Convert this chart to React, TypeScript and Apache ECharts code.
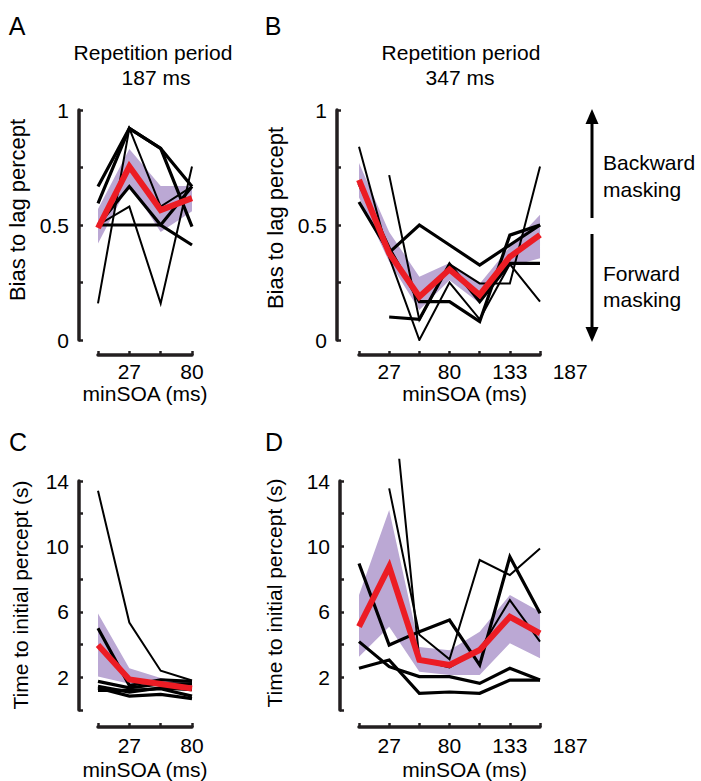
import React, { useEffect, useRef } from "react";
import * as echarts from "echarts";

// ---------- categories / tick labels ----------
const soaShort = ["0", "27", "53", "80"];
const soaLong = ["0", "27", "53", "80", "107", "133", "160"];
const soaLongWithEnd = ["0", "27", "53", "80", "107", "133", "160", "187"];
const shortShownLabels = ["27", "80"];
const longShownLabels = ["27", "80", "133", "187"];
const biasTickLabels = [0, 0.5, 1];
const timeTickLabels = [2, 6, 10, 14];

// ---------- Panel A (period 187 ms): bias to lag percept ----------
const aSubj1 = [0.667, 0.92, 0.833, 0.667];
const aSubj2 = [0.594, 0.92, 0.833, 0.493];
const aSubj3 = [0.159, 0.92, 0.58, 0.667];
const aSubj4 = [0.5, 0.667, 0.5, 0.413];
const aSubj5 = [0.5, 0.58, 0.159, 0.754];
const aSubj6 = [0.5, 0.5, 0.5, 0.667];
const aMean = [0.487, 0.754, 0.565, 0.617];
const aLower = [0.42, 0.68, 0.47, 0.56];
const aUpper = [0.57, 0.83, 0.67, 0.67];

// ---------- Panel B (period 347 ms): bias to lag percept ----------
const bSubj1 = [0.84, 0.36, 0.0, 0.25, 0.09, 0.33, 0.167];
const bSubj2 = [0.6, 0.38, 0.5, 0.413, 0.326, 0.413, 0.5];
const bSubj3 = [0.68, 0.4, 0.167, 0.167, 0.08, 0.456, 0.5];
const bSubj4 = [null, 0.717, 0.087, 0.33, 0.246, 0.246, 0.754];
const bSubj5 = [null, 0.1, 0.09, 0.33, 0.167, 0.333, 0.333];
const bMean = [0.696, 0.377, 0.188, 0.307, 0.196, 0.362, 0.457];
const bLower = [0.62, 0.34, 0.13, 0.26, 0.16, 0.32, 0.355];
const bUpper = [0.77, 0.47, 0.275, 0.335, 0.245, 0.405, 0.545];

// ---------- Panel C (period 187 ms): time to initial percept ----------
const cSubj1 = [13.4, 5.35, 2.4, 1.8];
const cSubj2 = [5.0, 1.5, 1.85, 1.75];
const cSubj3 = [1.75, 1.35, 1.6, 1.6];
const cSubj4 = [1.45, 1.1, 1.35, 1.25];
const cSubj5 = [1.35, 0.85, 0.95, 0.7];
const cSubj6 = [1.2, 1.2, 1.3, 0.85];
const cMean = [3.97, 1.87, 1.59, 1.32];
const cLower = [2.05, 1.6, 1.45, 1.2];
const cUpper = [5.9, 2.55, 1.95, 1.6];

// ---------- Panel D (period 347 ms): time to initial percept ----------
const dSubj1 = [8.96, 3.97, 4.79, 5.5, 2.75, 9.37, 5.91];
const dSubj2 = [null, 13.55, 4.6, 3.1, 9.17, 8.25, 9.88];
const dSubj3 = [null, 21.5, 3.06, 2.6, 3.67, 6.72, 4.18];
const dSubj4 = [4.18, 2.65, 2.04, 2.04, 1.63, 2.55, 1.83];
const dSubj5 = [2.55, 3.06, 1.02, 1.1, 1.02, 1.83, 1.83];
const dMean = [5.1, 8.76, 3.06, 2.75, 3.67, 5.7, 4.69];
const dLower = [3.26, 5.09, 2.34, 2.14, 2.14, 4.08, 3.16];
const dUpper = [7.03, 12.22, 3.85, 3.65, 4.79, 7.03, 6.01];

// ---------- styling ----------
const FONT = "Liberation Sans, Arial, Helvetica, sans-serif";
const AXIS_COLOR = "#231f20";
const BAND_COLOR = "#bba8d4";
const MEAN_COLOR = "#ec1c24";
const FS = 21;

type PanelCfg = {
  dataRect: { left: number; top: number; width: number; height: number };
  xLineRect: { left: number; top: number; width: number; height: number };
  yRect: { left: number; top: number; width: number; height: number };
  labelCats: string[];
  shownLabels: string[];
  lineCats: string[];
  yDataMax: number;
  yAxisMax: number;
  yInterval: number;
  yLabels: number[];
  subjects: (number | null)[][];
  widths: number[];
  mean: number[];
  lower: number[];
  upper: number[];
  xOffset: number;
  labelMargin: number;
  nameGap: number;
};

function buildPanel(i: number, c: PanelCfg) {
  const g = i * 3;
  const grids = [
    { ...c.dataRect, containLabel: false, outerBoundsMode: "none" },
    { ...c.xLineRect, containLabel: false, outerBoundsMode: "none" },
    { ...c.yRect, containLabel: false, outerBoundsMode: "none" },
  ];
  const textStyle = { fontFamily: FONT, fontSize: FS, color: "#000" };
  const xAxes = [
    {
      gridIndex: g,
      type: "category",
      data: c.labelCats,
      boundaryGap: false,
      offset: c.xOffset,
      axisLine: { show: false, onZero: false },
      axisTick: { show: false },
      splitLine: { show: false },
      axisLabel: {
        show: true,
        interval: 0,
        margin: c.labelMargin,
        formatter: (v: string) => (c.shownLabels.includes(v) ? v : ""),
        ...textStyle,
      },
      name: "minSOA (ms)",
      nameLocation: "middle",
      nameGap: c.nameGap,
      nameTextStyle: textStyle,
    },
    {
      gridIndex: g + 1,
      type: "category",
      data: c.lineCats,
      boundaryGap: false,
      axisLine: { show: true, onZero: false, lineStyle: { color: AXIS_COLOR, width: 3.5 } },
      axisTick: { show: true, inside: true, length: 4, interval: 0, lineStyle: { color: AXIS_COLOR, width: 2.5 } },
      axisLabel: { show: false },
      splitLine: { show: false },
    },
    { gridIndex: g + 2, type: "value", show: false },
  ];
  const yAxes = [
    { gridIndex: g, type: "value", min: 0, max: c.yDataMax, show: false },
    { gridIndex: g + 1, type: "value", show: false },
    {
      gridIndex: g + 2,
      type: "value",
      min: 0,
      max: c.yAxisMax,
      interval: c.yInterval,
      axisLine: { show: true, onZero: false, lineStyle: { color: AXIS_COLOR, width: 3.5 } },
      axisTick: { show: true, inside: true, length: 4, lineStyle: { color: AXIS_COLOR, width: 2.5 } },
      splitLine: { show: false },
      axisLabel: {
        margin: 10,
        formatter: (v: number) => (c.yLabels.some((l) => Math.abs(l - v) < 1e-9) ? String(v) : ""),
        ...textStyle,
      },
    },
  ];
  const base = { xAxisIndex: g, yAxisIndex: g, symbol: "none", silent: true, animation: false };
  const series: any[] = [
    {
      ...base,
      type: "line",
      data: c.lower,
      stack: "band" + i,
      lineStyle: { width: 0, opacity: 0 },
      z: 1,
    },
    {
      ...base,
      type: "line",
      data: c.upper.map((u, k) => u - c.lower[k]),
      stack: "band" + i,
      lineStyle: { width: 0, opacity: 0 },
      areaStyle: { color: BAND_COLOR, opacity: 1 },
      z: 1,
    },
  ];
  c.subjects.forEach((s, k) => {
    series.push({
      ...base,
      type: "line",
      data: s.map((v) => (v === null ? "-" : v)),
      connectNulls: false,
      lineStyle: { color: "#000", width: c.widths[k], join: "miter", cap: "butt" },
      z: 2,
    });
  });
  series.push({
    ...base,
    type: "line",
    data: c.mean,
    lineStyle: { color: MEAN_COLOR, width: 6, join: "miter", cap: "butt" },
    z: 3,
  });
  return { grids, xAxes, yAxes, series };
}

const App: React.FC = () => {
  const ref = useRef<HTMLDivElement>(null);
  useEffect(() => {
    if (!ref.current) return;
    const chart = echarts.init(ref.current, undefined, { renderer: "svg" });

    const timeUnit = 229 / 14;
    const dDataMax = 15.3;
    const panels: PanelCfg[] = [
      {
        dataRect: { left: 98, top: 110, width: 94, height: 230 },
        xLineRect: { left: 98, top: 110, width: 94, height: 245 },
        yRect: { left: 79, top: 110, width: 40, height: 230 },
        labelCats: soaShort,
        shownLabels: shortShownLabels,
        lineCats: soaShort,
        yDataMax: 1,
        yAxisMax: 1,
        yInterval: 0.25,
        yLabels: biasTickLabels,
        subjects: [aSubj1, aSubj2, aSubj3, aSubj4, aSubj5, aSubj6],
        widths: [3.2, 3.2, 2, 3.2, 2, 3.2],
        mean: aMean,
        lower: aLower,
        upper: aUpper,
        xOffset: 15,
        labelMargin: 6,
        nameGap: 26,
      },
      {
        dataRect: { left: 359, top: 110, width: 211.2, height: 230 },
        xLineRect: { left: 359, top: 110, width: 181, height: 245 },
        yRect: { left: 337, top: 110, width: 40, height: 230 },
        labelCats: soaLongWithEnd,
        shownLabels: longShownLabels,
        lineCats: soaLong,
        yDataMax: 1,
        yAxisMax: 1,
        yInterval: 0.25,
        yLabels: biasTickLabels,
        subjects: [bSubj1, bSubj2, bSubj3, bSubj4, bSubj5],
        widths: [2, 3.2, 3.2, 2, 3.2],
        mean: bMean,
        lower: bLower,
        upper: bUpper,
        xOffset: 15,
        labelMargin: 6,
        nameGap: 26,
      },
      {
        dataRect: { left: 98, top: 481, width: 94, height: 229 },
        xLineRect: { left: 98, top: 481, width: 94, height: 246 },
        yRect: { left: 79, top: 481, width: 40, height: 229 },
        labelCats: soaShort,
        shownLabels: shortShownLabels,
        lineCats: soaShort,
        yDataMax: 14,
        yAxisMax: 14,
        yInterval: 2,
        yLabels: timeTickLabels,
        subjects: [cSubj1, cSubj2, cSubj3, cSubj4, cSubj5, cSubj6],
        widths: [2, 3.2, 3.2, 3.2, 3.2, 3.2],
        mean: cMean,
        lower: cLower,
        upper: cUpper,
        xOffset: 17,
        labelMargin: 8,
        nameGap: 32,
      },
      {
        dataRect: { left: 359, top: 710 - dDataMax * timeUnit, width: 211.2, height: dDataMax * timeUnit },
        xLineRect: { left: 359, top: 481, width: 181, height: 246 },
        yRect: { left: 340, top: 481, width: 40, height: 229 },
        labelCats: soaLongWithEnd,
        shownLabels: longShownLabels,
        lineCats: soaLong,
        yDataMax: dDataMax,
        yAxisMax: 14,
        yInterval: 2,
        yLabels: timeTickLabels,
        subjects: [dSubj1, dSubj2, dSubj3, dSubj4, dSubj5],
        widths: [3.2, 2, 2, 3.2, 3.2],
        mean: dMean,
        lower: dLower,
        upper: dUpper,
        xOffset: 17,
        labelMargin: 8,
        nameGap: 32,
      },
    ];

    const grid: any[] = [];
    const xAxis: any[] = [];
    const yAxis: any[] = [];
    const series: any[] = [];
    panels.forEach((p, i) => {
      const b = buildPanel(i, p);
      grid.push(...b.grids);
      xAxis.push(...b.xAxes);
      yAxis.push(...b.yAxes);
      series.push(...b.series);
    });

    const txt = (text: string, x: number, y: number, opts: any = {}) => ({
      type: "text",
      x,
      y,
      silent: true,
      rotation: opts.rotation || 0,
      style: {
        text,
        font: `${opts.size || FS}px ${FONT}`,
        fill: "#000",
        textAlign: opts.align || "center",
        textVerticalAlign: "middle",
      },
    });

    const graphic: any[] = [
      txt("A", 17, 26, { size: 25 }),
      txt("B", 273, 26, { size: 25 }),
      txt("C", 18, 442, { size: 25 }),
      txt("D", 274, 442, { size: 25 }),
      txt("Repetition period", 153, 52),
      txt("187 ms", 156, 77),
      txt("Repetition period", 461, 52),
      txt("347 ms", 460, 77),
      txt("Bias to lag percept", 17, 210, { rotation: Math.PI / 2, size: 22 }),
      txt("Bias to lag percept", 275, 218, { rotation: Math.PI / 2, size: 22 }),
      txt("Time to initial percept (s)", 20, 595, { rotation: Math.PI / 2 }),
      txt("Time to initial percept (s)", 274, 593, { rotation: Math.PI / 2 }),
      txt("Backward", 603, 162, { align: "left" }),
      txt("masking", 603, 189, { align: "left" }),
      txt("Forward", 603, 273, { align: "left" }),
      txt("masking", 603, 299, { align: "left" }),
      {
        type: "line",
        silent: true,
        shape: { x1: 592, y1: 218, x2: 592, y2: 120 },
        style: { stroke: "#000", lineWidth: 3 },
      },
      {
        type: "polygon",
        silent: true,
        shape: { points: [[592, 109], [585.5, 124], [598.5, 124]] },
        style: { fill: "#000" },
      },
      {
        type: "line",
        silent: true,
        shape: { x1: 592, y1: 234, x2: 592, y2: 330 },
        style: { stroke: "#000", lineWidth: 3 },
      },
      {
        type: "polygon",
        silent: true,
        shape: { points: [[592, 342], [585.5, 327], [598.5, 327]] },
        style: { fill: "#000" },
      },
    ];

    chart.setOption({
      animation: false,
      backgroundColor: "#fff",
      grid,
      xAxis,
      yAxis,
      series,
      graphic,
    });

    return () => chart.dispose();
  }, []);

  return (
    <div
      ref={ref}
      style={{ position: "absolute", left: 0, top: 0, width: 701, height: 781 }}
    />
  );
};

export default App;
